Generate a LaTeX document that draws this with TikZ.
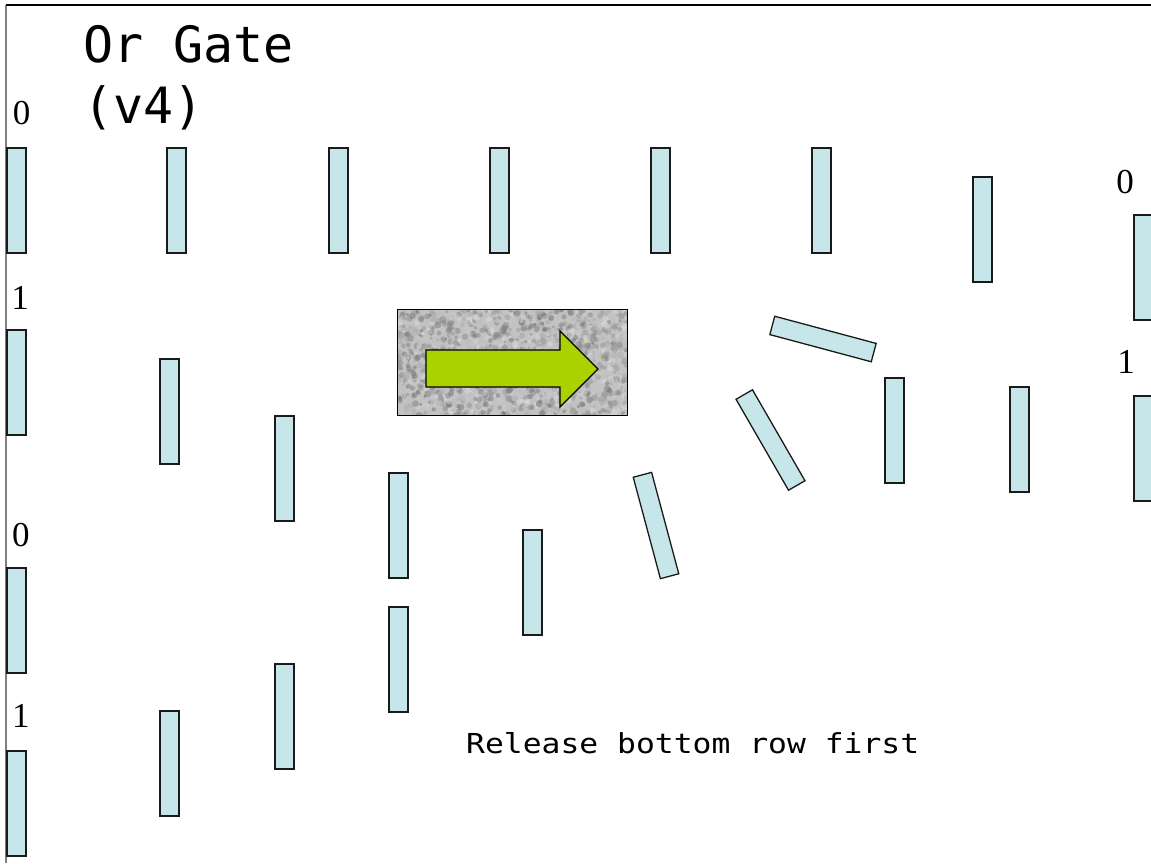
\documentclass[tikz,border=0pt]{standalone}
\usepackage{fontspec}
\setmainfont{Liberation Serif}
\newfontfamily\monofont{DejaVu Sans Mono}
\usetikzlibrary{calc}
\definecolor{blockfill}{HTML}{C7E6E9}
\definecolor{blockline}{HTML}{1A1A1A}
\definecolor{arrowgreen}{HTML}{A9D200}
\definecolor{noisebase}{HTML}{C2C2C2}
\tikzset{
  domino/.style={draw=blockline, fill=blockfill, line width=1.3pt, inner sep=0pt,
    minimum width=19pt, minimum height=105pt, rectangle},
  bit/.style={font=\fontsize{35}{40}\selectfont, inner sep=0pt, anchor=base},
  title/.style={font=\monofont\fontsize{50}{60}\selectfont, inner sep=0pt, anchor=base west},
  note/.style={font=\monofont\fontsize{27.5}{32}\selectfont, inner sep=0pt, anchor=base west},
}
\begin{document}
\begin{tikzpicture}[x=1pt, y=-1pt]
\useasboundingbox (0,0) rectangle (1151,863);
\fill[white] (0,0) rectangle (1151,863);

% page frame
\coordinate (frameTL) at (6,5);
\coordinate (frameTR) at (1151,5);
\coordinate (frameBL) at (6,863);
\draw[gray, line width=1.2pt] (frameTL) -- (frameBL);
\draw[black, line width=1.4pt] (frameTL) -- (frameTR);

% title
\node[title] (t1) at (83,62) {Or Gate};
\node[title] (t2) at (83,123) {(v4)};

% upright dominoes (centres)
\foreach \n/\x/\y in {
  a1/7/148, a2/167/148, a3/329/148, a4/490/148, a5/651/148, a6/812/148,
  a7/973/177, a8/1134/215, a9/1134/396,
  b1/7/330, b2/160/359, b3/275/416, b4/389/473, b5/523/530, b6/885/378, b7/1010/387,
  c1/7/568, c2/7/751, c3/160/711, c4/275/664, c5/389/607}
  \node[domino] (\n) at (\x+9.5,\y+52.5) {};

% falling dominoes
\node[domino, rotate=15] (f1) at (656,525.5) {};
\node[domino, rotate=30] (f2) at (770.5,440) {};
\node[domino, rotate=75] (f3) at (823,339) {};

% input / output values
\node[bit] (v1) at (21.5,124) {0};
\node[bit] (v2) at (20,309) {1};
\node[bit] (v3) at (21,546) {0};
\node[bit] (v4) at (21,727) {1};
\node[bit] (v5) at (1125,193) {0};
\node[bit] (v6) at (1126,373) {1};

% textured panel with arrow
\node[fill=noisebase, inner sep=0pt, minimum width=229pt, minimum height=105pt, rectangle]
  (panel) at (512.5,362.5) {};
\begin{scope}
  \clip (panel.south west) rectangle (panel.north east);
  \pgfmathsetseed{42}
  \foreach \i in {1,...,1500}{
    \pgfmathsetmacro\px{398+230*rnd}
    \pgfmathsetmacro\py{310+106*rnd}
    \pgfmathsetmacro\g{10+50*rnd}
    \pgfmathsetmacro\r{1.4+2.2*rnd}
    \fill[black!\g!white, opacity=0.45] (\px,\py) circle[radius=\r];
  }
\end{scope}
\draw[black, line width=1.3pt] (panel.south west) rectangle (panel.north east);
\draw[black, line width=1.2pt, fill=arrowgreen]
  (426,350) -- (560,350) -- (560,331) -- (598,369) -- (560,407) -- (560,387) -- (426,387) -- cycle;

% note
\node[note] (msg) at (466,753) {\scalebox{1.14}[1]{Release bottom row first}};
\end{tikzpicture}
\end{document}
